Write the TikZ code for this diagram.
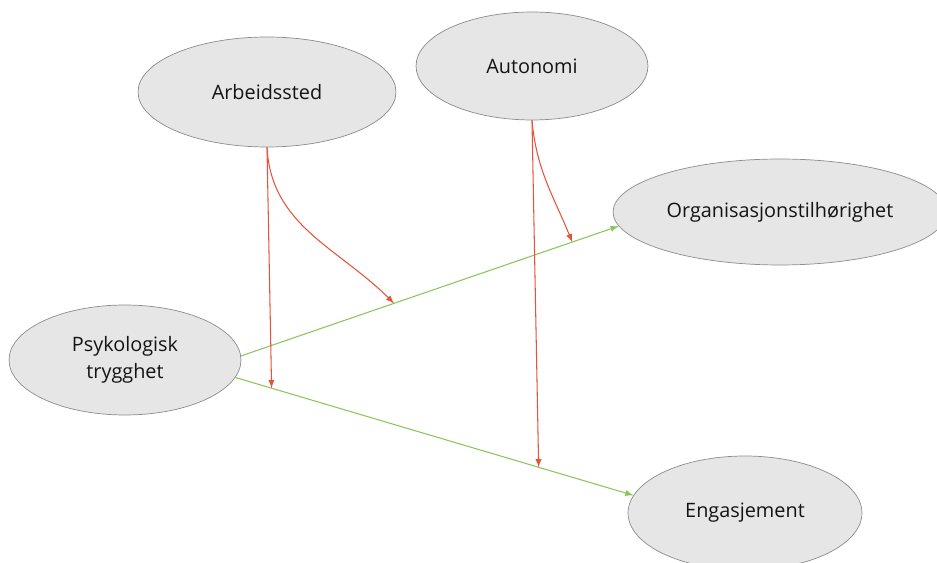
\documentclass[tikz,border=0pt]{standalone}
\usepackage{fontspec}
\setmainfont{Open Sans}
\usetikzlibrary{shapes.geometric}

\definecolor{varfill}{HTML}{E6E6E6}
\definecolor{varline}{HTML}{8C8C8C}
\definecolor{effect}{HTML}{86C75A}
\definecolor{moderator}{HTML}{E5533C}

\begin{document}
\begin{tikzpicture}[> = latex, x = 0.02cm, y = -0.02cm,
	varnode/.style = {ellipse, draw = varline, fill = varfill, inner sep = 0pt,
		text = black!92, font = \fontsize{11.3}{15}\selectfont, align = center},
	mainpath/.style = {->, effect, line width = 0.6pt},
	modpath/.style = {->, moderator, line width = 0.6pt}]

	\clip (0, 0) rectangle (937, 563);

	% The variables

	\node [varnode, minimum width = 5.16cm, minimum height = 2.2cm] (arbeid) at (267, 92) {Arbeidssted};
	\node [varnode, minimum width = 4.64cm, minimum height = 2.16cm] (autonomi) at (532, 66) {Autonomi};
	\node [varnode, minimum width = 6.68cm, minimum height = 2.12cm] (org) at (780, 212) {Organisasjonstilhørighet};
	\node [varnode, minimum width = 4.64cm, minimum height = 2.2cm] (psyk) at (125, 360) {Psykologisk\\trygghet};
	\node [varnode, minimum width = 4.68cm, minimum height = 2.28cm] (engasj) at (745, 513) {Engasjement};

	% Main effects

	\draw [mainpath] (psyk.2) -- coordinate [pos = 0.405] (modorg1) coordinate [pos = 0.877] (modorg2) (org.185);
	\draw [mainpath] (psyk.-9) -- coordinate [pos = 0.091] (modeng1) coordinate [pos = 0.762] (modeng2) (engasj.171);

	% Moderators

	\begin{scope}[modpath]

		\draw (arbeid.south) -- (modeng1);
		\draw (arbeid.south) to [out = -87, in = 135] (modorg1);
		\draw (autonomi.south) -- (modeng2);
		\draw (autonomi.south) to [out = -85, in = 112] (modorg2);

	\end{scope}

\end{tikzpicture}
\end{document}
